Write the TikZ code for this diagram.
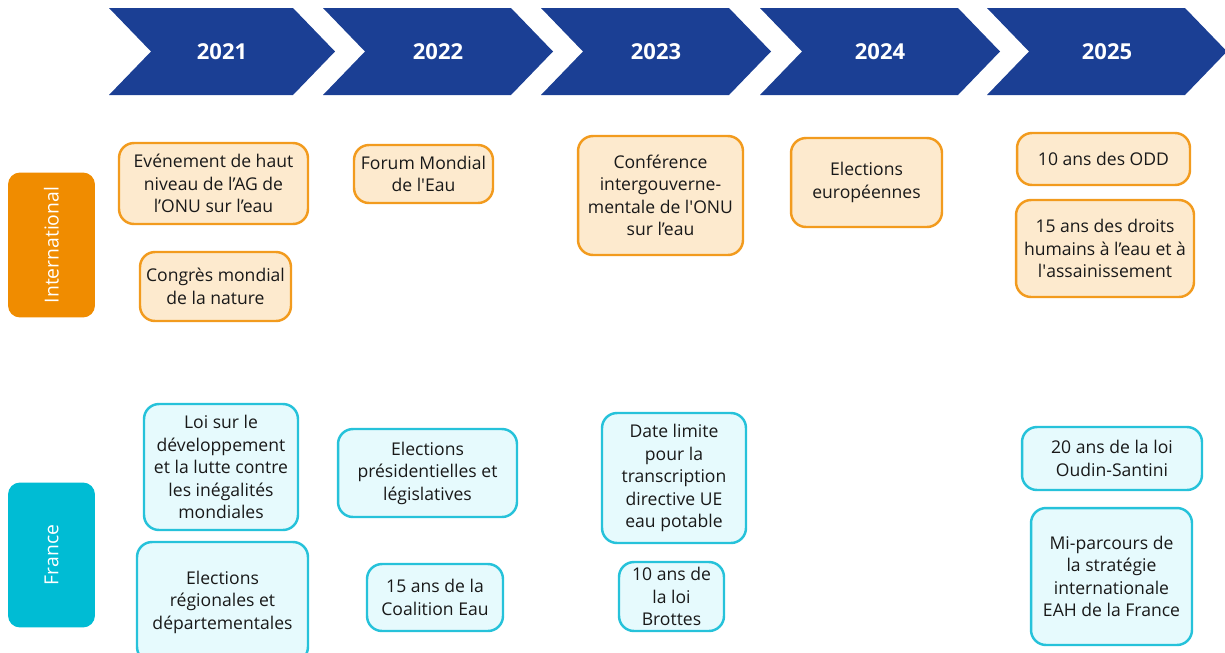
\documentclass[tikz,border=0pt]{standalone}
\usepackage{fontspec}
\setmainfont{Open Sans}
\usetikzlibrary{positioning}
\definecolor{chevblue}{RGB}{27,63,148}
\definecolor{intorange}{RGB}{240,140,0}
\definecolor{intfill}{RGB}{253,234,206}
\definecolor{intline}{RGB}{242,155,30}
\definecolor{frcyan}{RGB}{0,188,212}
\definecolor{frfill}{RGB}{230,250,253}
\definecolor{frline}{RGB}{38,194,218}
\definecolor{txt}{RGB}{25,25,25}
\newcommand{\sq}{\textquotesingle}

\begin{document}
\begin{tikzpicture}[x=0.02cm, y=-0.02cm,
    year/.style={text=white, font=\bfseries\fontsize{12.5}{14}\selectfont},
    side/.style={rounded corners=0.24cm, minimum width=1.74cm, minimum height=2.9cm, inner sep=0pt},
    sidetext/.style={text=white, rotate=90, font=\fontsize{11}{13}\selectfont},
    ev/.style={rounded corners=0.3cm, line width=1.4pt, inner sep=0pt, align=center, text=txt,
      font=\fontsize{10}{12.8}\selectfont},
    intbox/.style={ev, draw=intline, fill=intfill},
    frbox/.style={ev, draw=frline, fill=frfill}]
            \useasboundingbox (0, 0) rectangle (1225, 653);

            % year chevrons
            \foreach \l/\r/\yr in {109/335/2021, 323/553/2022, 541/771/2023, 760/1000/2024, 987/1227/2025} {
                \fill[chevblue] (\l, 8) -- (\r-42, 8) -- (\r, 51.5) -- (\r-42, 95) -- (\l, 95) -- (\l+42, 51.5) -- cycle;
                \node[year] at ({(\l+\r)/2}, 51.5) (y\yr) {\yr};
            }

            % row labels
            \node[side, fill=intorange] at (51.5, 245) (intl) {};
            \node[sidetext] at (intl.center) (intltxt) {International};
            \node[side, fill=frcyan] at (51.5, 555) (fr) {};
            \node[sidetext] at (fr.center) (frtxt) {France};

            % international
            \node[intbox, minimum width=3.78cm, minimum height=1.62cm] at (213.5, 183.5) (agonu)
                {Evénement de haut\\niveau de l’AG de\\l’ONU sur l’eau};
            \node[intbox, minimum width=3.02cm, minimum height=1.38cm] at (215.5, 286.5) (congres)
                {Congrès mondial\\de la nature};
            \node[intbox, minimum width=2.78cm, minimum height=1.16cm] at (423.5, 174) (forum)
                {Forum Mondial\\de l\sq Eau};
            \node[intbox, minimum width=3.3cm, minimum height=2.38cm] at (660.5, 195.5) (confonu)
                {Conférence\\intergouverne-\\mentale de l\sq ONU\\sur l’eau};
            \node[intbox, minimum width=3.02cm, minimum height=1.78cm] at (866.5, 182.5) (euro)
                {Elections\\européennes};
            \node[intbox, minimum width=3.46cm, minimum height=1.04cm] at (1103.5, 159) (odd)
                {10 ans des ODD};
            \node[intbox, minimum width=3.56cm, minimum height=1.94cm] at (1105, 248.5) (droits)
                {15 ans des droits\\humains à l’eau et à\\l\sq assainissement};

            % France
            \node[frbox, minimum width=3.08cm, minimum height=2.52cm] at (221, 467) (loi)
                {Loi sur le\\développement\\et la lutte contre\\les inégalités\\mondiales};
            \node[frbox, minimum width=3.42cm, minimum height=2.4cm] at (222.5, 602) (regio)
                {Elections\\régionales et\\départementales};
            \node[frbox, minimum width=3.58cm, minimum height=1.76cm] at (427.5, 473) (presi)
                {Elections\\présidentielles et\\législatives};
            \node[frbox, minimum width=2.72cm, minimum height=1.34cm] at (435, 597.5) (coal)
                {15 ans de la\\Coalition Eau};
            \node[frbox, minimum width=2.88cm, minimum height=2.6cm] at (674, 478) (directive)
                {Date limite\\pour la\\transcription\\directive UE\\eau potable};
            \node[frbox, minimum width=2.1cm, minimum height=1.38cm] at (671.5, 596.5) (brottes)
                {10 ans de\\la loi\\Brottes};
            \node[frbox, minimum width=3.6cm, minimum height=1.26cm] at (1112, 458.5) (oudin)
                {20 ans de la loi\\Oudin-Santini};
            \node[frbox, minimum width=3.22cm, minimum height=2.74cm] at (1111.5, 576.5) (strat)
                {Mi-parcours de\\la stratégie\\internationale\\EAH de la France};
\end{tikzpicture}
\end{document}
